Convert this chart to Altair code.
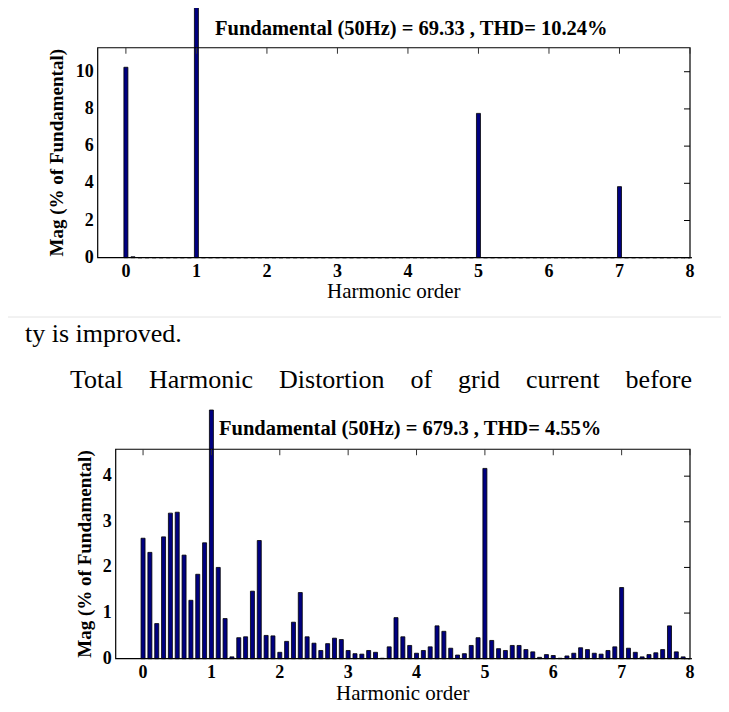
import altair as alt
import pandas as pd

# ---------------- data ----------------
orders = [0.0, 0.1, 0.2, 0.3, 0.4, 0.5, 0.6, 0.7, 0.8, 0.9,
          1.0, 1.1, 1.2, 1.3, 1.4, 1.5, 1.6, 1.7, 1.8, 1.9,
          2.0, 2.1, 2.2, 2.3, 2.4, 2.5, 2.6, 2.7, 2.8, 2.9,
          3.0, 3.1, 3.2, 3.3, 3.4, 3.5, 3.6, 3.7, 3.8, 3.9,
          4.0, 4.1, 4.2, 4.3, 4.4, 4.5, 4.6, 4.7, 4.8, 4.9,
          5.0, 5.1, 5.2, 5.3, 5.4, 5.5, 5.6, 5.7, 5.8, 5.9,
          6.0, 6.1, 6.2, 6.3, 6.4, 6.5, 6.6, 6.7, 6.8, 6.9,
          7.0, 7.1, 7.2, 7.3, 7.4, 7.5, 7.6, 7.7, 7.8, 7.9,
          8.0]

top_mag = [10.24, 0.05, 0, 0, 0, 0, 0, 0, 0, 0,
           100, 0, 0, 0, 0, 0, 0, 0, 0, 0,
           0, 0, 0, 0, 0, 0, 0, 0, 0, 0,
           0, 0, 0, 0, 0, 0, 0, 0, 0, 0,
           0, 0, 0, 0, 0, 0, 0, 0, 0, 0,
           7.76, 0, 0, 0, 0, 0, 0, 0, 0, 0,
           0, 0, 0, 0, 0, 0, 0, 0, 0, 0,
           3.82, 0, 0, 0, 0, 0, 0, 0, 0, 0,
           0]

bottom_mag = [2.64, 2.33, 0.77, 2.67, 3.19, 3.21, 2.27, 1.28, 1.85, 2.54,
              100, 2.00, 0.88, 0.04, 0.46, 0.48, 1.48, 2.59, 0.51, 0.50,
              0.14, 0.38, 0.80, 1.45, 0.48, 0.34, 0.18, 0.33, 0.45, 0.42,
              0.18, 0.11, 0.10, 0.18, 0.14, 0.01, 0.26, 0.90, 0.48, 0.29,
              0.12, 0.18, 0.26, 0.72, 0.60, 0.23, 0.08, 0.11, 0.29, 0.46,
              4.17, 0.40, 0.22, 0.18, 0.29, 0.29, 0.20, 0.15, 0.03, 0.09,
              0.07, 0.01, 0.06, 0.12, 0.24, 0.20, 0.12, 0.10, 0.18, 0.26,
              1.56, 0.23, 0.14, 0.04, 0.09, 0.13, 0.20, 0.72, 0.15, 0.04,
              0.00]

x_ticks = [0, 1, 2, 3, 4, 5, 6, 7, 8]
top_y_ticks = [0, 2, 4, 6, 8, 10]
bottom_y_ticks = [0, 1, 2, 3, 4]

top_title = "Fundamental (50Hz) = 69.33 , THD= 10.24%"
bottom_title = "Fundamental (50Hz) = 679.3 , THD= 4.55%"
x_label = "Harmonic order"
y_label = "Mag (% of Fundamental)"
para1 = "ty is improved."
para2_words = ["Total", "Harmonic", "Distortion", "of", "grid", "current", "before"]

top_ylim = 11.29
bottom_ylim = 4.59
x_min, x_max = -0.4, 8

# ---------------- style ----------------
SERIF = "Liberation Serif"
NAVY = "#000080"
W, H = 713, 696


def panel(mags, yticks, ylim, xrange, yrange, ytop, title, title_xy, xlabel_y, ylabel_x):
    xs = alt.Scale(domain=[x_min, x_max], range=xrange, nice=False, zero=False)
    ys = alt.Scale(domain=[0, ytop], range=yrange, nice=False, zero=False, clamp=True)
    df = pd.DataFrame({"order": orders, "mag": mags})
    one = pd.DataFrame({"a": [0]})
    ydf = pd.DataFrame({"v": yticks})
    xdf = pd.DataFrame({"v": x_ticks})

    bars = alt.Chart(df).mark_bar(size=4, fill=NAVY, stroke="black", strokeWidth=0.8).encode(
        x=alt.X("order:Q", scale=xs, axis=None),
        y=alt.Y("mag:Q", scale=ys, axis=None),
    )
    box = alt.Chart(one).mark_rect(fillOpacity=0, stroke="black", strokeWidth=1.2).encode(
        x=alt.XDatum(x_min, axis=None),
        x2=alt.X2Datum(x_max),
        y=alt.YDatum(0, axis=None),
        y2=alt.Y2Datum(ylim),
    )
    rticks = alt.Chart(ydf).mark_rule(color="black", strokeWidth=1, x2Offset=-6).encode(
        x=alt.XDatum(x_max, axis=None),
        x2=alt.X2Datum(x_max),
        y=alt.Y("v:Q", axis=None),
    )
    tticks = alt.Chart(xdf).mark_rule(color="#333333", strokeWidth=1, y2Offset=6).encode(
        x=alt.X("v:Q", axis=None),
        y=alt.YDatum(ylim, axis=None),
        y2=alt.Y2Datum(ylim),
    )
    ylabels = alt.Chart(ydf).mark_text(
        font=SERIF, fontSize=18, fontWeight="bold", align="right", baseline="middle", dx=-4
    ).encode(
        x=alt.XDatum(x_min, axis=None),
        y=alt.Y("v:Q", axis=None),
        text=alt.Text("v:Q", format="d"),
    )
    xlabels = alt.Chart(xdf).mark_text(
        font=SERIF, fontSize=18, fontWeight="bold", align="center", baseline="middle", dy=14
    ).encode(
        x=alt.X("v:Q", axis=None),
        y=alt.YDatum(0, axis=None),
        text=alt.Text("v:Q", format="d"),
    )
    ttl = alt.Chart(pd.DataFrame({"t": [title]})).mark_text(
        font=SERIF, fontSize=20.5, fontWeight="bold", align="left", baseline="alphabetic"
    ).encode(x=alt.value(title_xy[0]), y=alt.value(title_xy[1]), text="t:N")
    xl = alt.Chart(pd.DataFrame({"t": [x_label]})).mark_text(
        font=SERIF, fontSize=21, align="center", baseline="alphabetic"
    ).encode(x=alt.XDatum((x_min + x_max) / 2, axis=None), y=alt.value(xlabel_y), text="t:N")
    yl = alt.Chart(pd.DataFrame({"t": [y_label]})).mark_text(
        font=SERIF, fontSize=19, fontWeight="bold", align="center", baseline="middle", angle=270
    ).encode(x=alt.value(ylabel_x), y=alt.YDatum(ylim / 2, axis=None), text="t:N")

    return alt.layer(bars, box, rticks, tticks, ylabels, xlabels, ttl, xl, yl)


top = panel(top_mag, top_y_ticks, top_ylim, [84.7, 687.0], [249.7, -1.0], 13.48,
            top_title, (207, 27), 290, 49)
bottom = panel(bottom_mag, bottom_y_ticks, bottom_ylim, [102.7, 687.0], [650.7, 402.0], 5.45,
               bottom_title, (211, 427), 692, 77)

frame = alt.Chart(pd.DataFrame({"a": [0]})).mark_rule(color="#e4e4e4", strokeWidth=1).encode(
    x=alt.value(-1), x2=alt.value(W + 1), y=alt.value(309)
)
gap = "\u00a0" * 4
paras = alt.Chart(pd.DataFrame({
    "t": [para1, gap.join(para2_words)],
    "px": [17, 62],
    "py": [334, 380],
})).mark_text(font=SERIF, fontSize=26, align="left", baseline="alphabetic", color="black").encode(
    x=alt.X("px:Q", scale=None, axis=None),
    y=alt.Y("py:Q", scale=None, axis=None),
    text="t:N",
)

chart = alt.layer(top, bottom, frame, paras).resolve_scale(
    x="independent", y="independent"
).properties(
    width=W, height=H, padding=0,
    autosize=alt.AutoSizeParams(type="none"),
).configure_view(stroke=None)

chart.save("out.html", embed_options={"renderer": "svg", "actions": False})
